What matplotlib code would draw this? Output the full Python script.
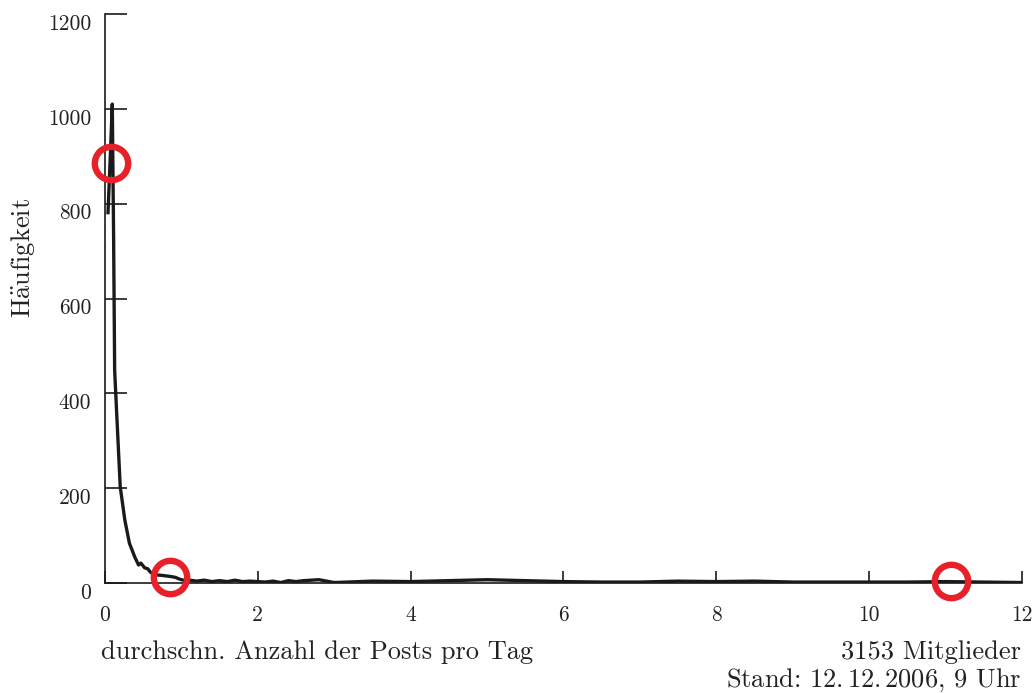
import matplotlib
matplotlib.use("Agg")
import matplotlib.pyplot as plt
import matplotlib.transforms as mtransforms

plt.rcParams['font.family'] = ['cmr10', 'DejaVu Serif']
plt.rcParams['mathtext.fontset'] = 'cm'
plt.rcParams['axes.formatter.use_mathtext'] = True

# average posts per day vs. number of members
posts_x = [0.04, 0.07, 0.096, 0.113, 0.127, 0.15, 0.2, 0.26, 0.32, 0.39, 0.44, 0.47,
           0.52, 0.56, 0.6, 0.68, 0.75, 0.85, 0.92, 0.98, 1.05, 1.11, 1.2, 1.3, 1.4,
           1.5, 1.6, 1.7, 1.8, 1.9, 2.0, 2.1, 2.2, 2.3, 2.4, 2.5, 2.6, 2.7, 2.8, 2.9,
           3.0, 3.5, 4.0, 4.5, 5.0, 5.5, 6.0, 6.5, 7.0, 7.5, 8.0, 8.5, 9.0, 9.5,
           10.0, 10.5, 11.0, 11.5, 12.0]
freq = [781, 900, 1010, 736, 449, 370, 203, 133, 84, 55, 38, 42,
        32, 30, 22, 17, 16, 14, 12, 8, 5, 6, 4, 6, 3,
        5, 3, 6, 3, 4, 3, 2, 4, 1, 5, 3, 5, 6, 7, 4,
        1, 4, 3, 5, 7, 5, 3, 2, 2, 4, 3, 4, 2, 2,
        2, 2, 3, 2, 1]

# highlighted points
circle_x = [0.08, 0.85, 11.07]
circle_y = [886, 13, 4]

xticks = [0, 2, 4, 6, 8, 10, 12]
yticks = [0, 200, 400, 600, 800, 1000, 1200]

fig = plt.figure(figsize=(10.36, 6.93), dpi=100)
ax = fig.add_axes([0.1013, 0.1587, 0.8852, 0.8211])

ax.plot(posts_x, freq, color='#1a1a1a', lw=2.4, solid_joinstyle='round')
ax.plot(circle_x, circle_y, 'o', ms=24, mfc='none', mec='#e8202a', mew=4.6,
        clip_on=False, zorder=5)

ax.set_xlim(0, 12)
ax.set_ylim(0, 1200)
ax.set_xticks(xticks)
ax.set_yticks(yticks)
ax.set_xticklabels([str(v) for v in xticks])
ax.set_yticklabels([str(v) for v in yticks])

for s in ['top', 'right']:
    ax.spines[s].set_visible(False)
for s in ['left', 'bottom']:
    ax.spines[s].set_linewidth(1.2)
    ax.spines[s].set_color('#1a1a1a')

ax.tick_params(axis='x', direction='in', length=9, width=1.2, pad=16,
               labelsize=15.5, colors='#1a1a1a')
ax.tick_params(axis='y', direction='in', length=16, width=1.2, pad=10,
               labelsize=15.5, colors='#1a1a1a')
ax.xaxis.set_tick_params(labelcolor='#222222')
ax.yaxis.set_tick_params(labelcolor='#222222')

# y labels sit a bit below their ticks
off = mtransforms.ScaledTranslation(0, -8 / 100, fig.dpi_scale_trans)
for lab in ax.get_yticklabels():
    lab.set_transform(lab.get_transform() + off)

fig.text(23 / 1036, 1 - 258 / 693, 'H$\\ddot{\\rm a}$ufigkeit', rotation=90,
         ha='center', va='center', fontsize=19, color='#222222')
fig.text(101 / 1036, 1 - 652 / 693, 'durchschn. Anzahl der Posts pro Tag',
         ha='left', va='center', fontsize=19, color='#222222')
fig.text(1021 / 1036, 1 - 652 / 693, '3153 Mitglieder',
         ha='right', va='center', fontsize=19, color='#222222')
fig.text(1021 / 1036, 1 - 680 / 693, 'Stand: 12.$\\,$12.$\\,$2006, 9 Uhr',
         ha='right', va='center', fontsize=19, color='#222222')

fig.savefig('out.png', dpi=100)
